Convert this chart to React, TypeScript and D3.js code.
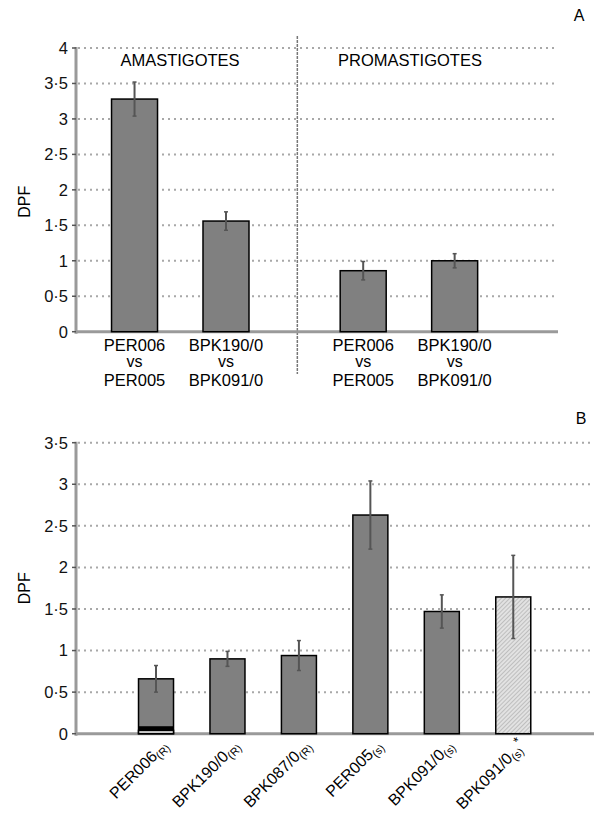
import React from "react";
import * as d3 from "d3";

// Panel A
const groupTitles = ["AMASTIGOTES", "PROMASTIGOTES"];
const aTop = ["PER006", "BPK190/0", "PER006", "BPK190/0"];
const aBottom = ["PER005", "BPK091/0", "PER005", "BPK091/0"];
const aGroup = [0, 0, 1, 1];
const aValues = [3.28, 1.56, 0.86, 1.0];
const aErrors = [0.24, 0.13, 0.13, 0.1];
const aTicks = [0, 0.5, 1, 1.5, 2, 2.5, 3, 3.5, 4];

// Panel B
const bNames = ["PER006", "BPK190/0", "BPK087/0", "PER005", "BPK091/0", "BPK091/0"];
const bSubs = ["(R)", "(R)", "(R)", "(s)", "(s)", "(s)"];
const bValues = [0.66, 0.9, 0.94, 2.63, 1.47, 1.645];
const bErrors = [0.16, 0.09, 0.18, 0.41, 0.2, 0.5];
const bHatched = [false, false, false, false, false, true];
const bStar = [false, false, false, false, false, true];
const bBlack = [[0.04, 0.09], null, null, null, null, null];
const bTicks = [0, 0.5, 1, 1.5, 2, 2.5, 3, 3.5];

const FONT = "'Liberation Sans', Arial, Helvetica, sans-serif";
const BAR = "#808080";
const GRID = "#a8a8a8";
const AXIS = "#9a9a9a";
const ERR = "#555";

const fmt = (v: number) => String(v).replace(".", "\u00b7");

export default function App() {
  // scales for panel A
  const ax = d3.scaleLinear().domain([0, 5.27]).range([76, 558]);
  const ay = d3.scaleLinear().domain([0, 4]).range([331.7, 48]);
  const aSlot = (i: number) => 0.64 + (i % 2) + aGroup[i] * 2.5;
  const aBarW = 46;

  // scales for panel B
  const bx = d3.scaleLinear().domain([0, 7.25]).range([76, 594]);
  const by = d3.scaleLinear().domain([0, 3.5]).range([733.7, 442.7]);
  const bSlot = (i: number) => 1.12 + i;
  const bBarW = 35;

  const yTickLabels = (y: d3.ScaleLinear<number, number>, ticks: number[]) =>
    ticks.map((t) => (
      <g key={t}>
        <text x={68} y={y(t)} dy="0.36em" textAnchor="end" fontSize={16.5} fill="#111">
          {fmt(t)}
        </text>
        <line x1={72} x2={76} y1={y(t)} y2={y(t)} stroke="#555" strokeWidth={1.5} />
      </g>
    ));

  const grid = (y: d3.ScaleLinear<number, number>, ticks: number[], x0: number, x1: number) =>
    ticks
      .filter((t) => t > 0)
      .map((t) => (
        <line
          key={t}
          x1={x0}
          x2={x1}
          y1={y(t)}
          y2={y(t)}
          stroke={GRID}
          strokeWidth={2}
          strokeDasharray="2,4"
        />
      ));

  const errBar = (cx: number, y: d3.ScaleLinear<number, number>, v: number, e: number, k: string) => (
    <g key={k}>
      <line x1={cx} x2={cx} y1={y(v + e)} y2={y(v - e)} stroke={ERR} strokeWidth={2} />
      <line x1={cx - 2} x2={cx + 2} y1={y(v + e)} y2={y(v + e)} stroke={ERR} strokeWidth={1.5} />
      <line x1={cx - 2} x2={cx + 2} y1={y(v - e)} y2={y(v - e)} stroke={ERR} strokeWidth={1.5} />
    </g>
  );

  const divX = ax(2.42);

  return (
    <svg
      width={594}
      height={817}
      style={{ position: "absolute", left: 0, top: 0, background: "#fff" }}
      fontFamily={FONT}
    >
      <defs>
        <pattern id="hatch" width={3} height={3} patternUnits="userSpaceOnUse" patternTransform="rotate(45)">
          <rect width={3} height={3} fill="#e2e2e2" />
          <line x1={0} y1={0} x2={0} y2={3} stroke="#9a9a9a" strokeWidth={1} />
        </pattern>
      </defs>
      <rect width={594} height={817} fill="#fff" />

      {/* ---------- Panel A ---------- */}
      <text x={579} y={15} dy="0.36em" textAnchor="middle" fontSize={16}>A</text>
      {grid(ay, aTicks, 78, 558)}
      <line x1={divX} x2={divX} y1={36} y2={374} stroke="#777" strokeWidth={1.5} strokeDasharray="3,1" />
      <line x1={76} x2={558} y1={ay(0)} y2={ay(0)} stroke={AXIS} strokeWidth={3} />
      <line x1={76} x2={76} y1={ay(4) - 1} y2={ay(0) + 2} stroke={AXIS} strokeWidth={3} />
      {yTickLabels(ay, aTicks)}
      <text transform={`translate(30,${(ay(0) + ay(4)) / 2 + 12}) rotate(-90)`} textAnchor="middle" fontSize={16}>
        DPF
      </text>
      {groupTitles.map((g, gi) => (
        <text key={g} x={gi === 0 ? 180 : 410} y={60} dy="0.36em" textAnchor="middle" fontSize={16.5}>
          {g}
        </text>
      ))}
      {aValues.map((v, i) => {
        const cx = ax(aSlot(i));
        return (
          <g key={i}>
            <rect
              x={cx - aBarW / 2}
              y={ay(v)}
              width={aBarW}
              height={ay(0) - ay(v)}
              fill={BAR}
              stroke="#000"
              strokeWidth={1.5}
            />
            {errBar(cx, ay, v, aErrors[i], "e" + i)}
            <text x={cx} y={345} dy="0.36em" textAnchor="middle" fontSize={16.5}>{aTop[i]}</text>
            <text x={cx} y={362} dy="0.3em" textAnchor="middle" fontSize={16}>vs</text>
            <text x={cx} y={380} dy="0.36em" textAnchor="middle" fontSize={16.5}>{aBottom[i]}</text>
          </g>
        );
      })}

      {/* ---------- Panel B ---------- */}
      <text x={581} y={418} dy="0.36em" textAnchor="middle" fontSize={16}>B</text>
      {grid(by, bTicks, 78, 594)}
      <line x1={76} x2={594} y1={by(0)} y2={by(0)} stroke={AXIS} strokeWidth={3} />
      <line x1={76} x2={76} y1={by(3.5) - 1} y2={by(0) + 2} stroke={AXIS} strokeWidth={3} />
      {yTickLabels(by, bTicks)}
      <text transform={`translate(30,${(by(0) + by(3.5)) / 2}) rotate(-90)`} textAnchor="middle" fontSize={16}>
        DPF
      </text>
      {bValues.map((v, i) => {
        const cx = bx(bSlot(i));
        const seg = bBlack[i];
        return (
          <g key={i}>
            <rect
              x={cx - bBarW / 2}
              y={by(v)}
              width={bBarW}
              height={by(0) - by(v)}
              fill={bHatched[i] ? "url(#hatch)" : BAR}
              stroke="#000"
              strokeWidth={1.5}
            />
            {seg && (
              <>
                <rect
                  x={cx - bBarW / 2}
                  y={by(seg[0])}
                  width={bBarW}
                  height={by(0) - by(seg[0])}
                  fill="#d8d8d8"
                  stroke="#000"
                  strokeWidth={1.5}
                />
                <rect
                  x={cx - bBarW / 2}
                  y={by(seg[1])}
                  width={bBarW}
                  height={by(seg[0]) - by(seg[1])}
                  fill="#000"
                />
              </>
            )}
            {errBar(cx, by, v, bErrors[i], "b" + i)}
            <g transform={`translate(${cx + 13},${by(0) + 13}) rotate(-45)`}>
              <text textAnchor="end" fontSize={16}>
                <tspan>{bNames[i]}</tspan>
                <tspan fontSize={11} dy={3}>{bSubs[i]}</tspan>
                {bStar[i] && <tspan fontSize={13} dy={-9}>*</tspan>}
              </text>
            </g>
          </g>
        );
      })}
    </svg>
  );
}
